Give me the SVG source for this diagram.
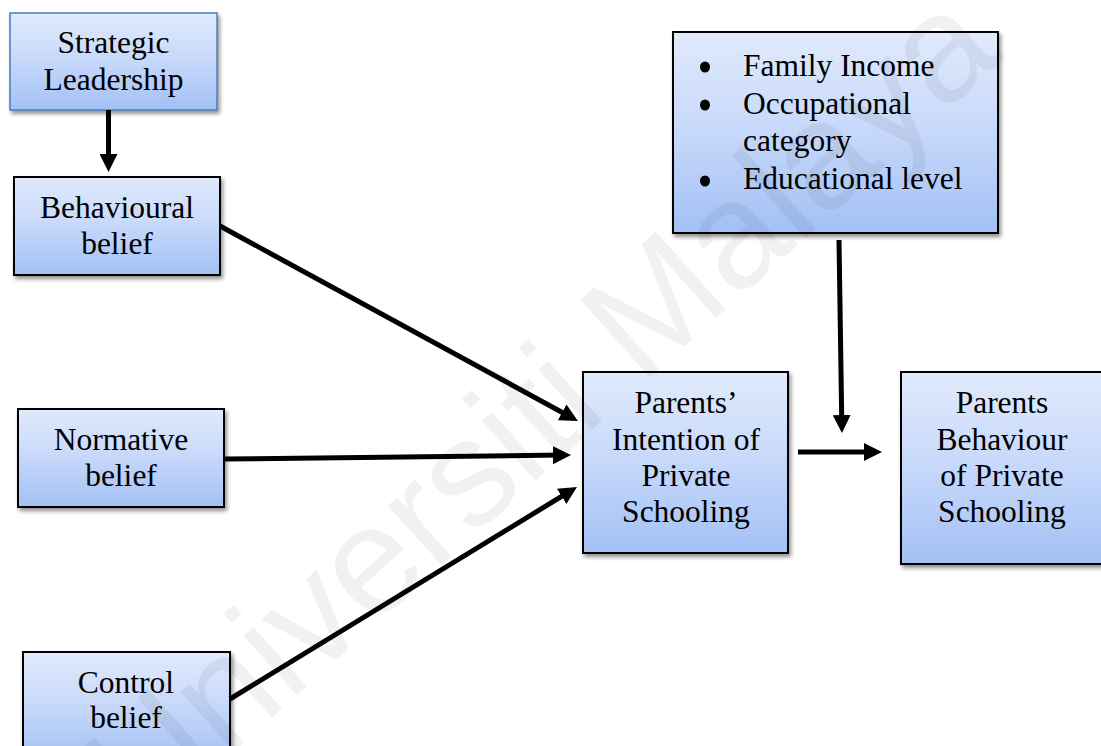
<svg xmlns="http://www.w3.org/2000/svg" width="1101" height="746" viewBox="0 0 1101 746">
<defs>
  <linearGradient id="g" x1="0" y1="0" x2="0" y2="1">
    <stop offset="0" stop-color="#e1eafc"/>
    <stop offset="0.5" stop-color="#c6d8fa"/>
    <stop offset="1" stop-color="#a2c0f5"/>
  </linearGradient>
  <filter id="sh" x="-10%" y="-10%" width="125%" height="130%">
    <feGaussianBlur in="SourceAlpha" stdDeviation="2"/>
    <feOffset dx="2" dy="3" result="b"/>
    <feComponentTransfer><feFuncA type="linear" slope="0.45"/></feComponentTransfer>
    <feMerge><feMergeNode/><feMergeNode in="SourceGraphic"/></feMerge>
  </filter>
  <marker id="ah" viewBox="0 0 18 18" refX="8" refY="9" markerWidth="18" markerHeight="18" markerUnits="userSpaceOnUse" orient="auto">
    <path d="M0,0 L18,9 L0,18 z" fill="#000"/>
  </marker>
  <style>
    .box{fill:url(#g);stroke:#000;stroke-width:2;filter:url(#sh)}
    .boxb{fill:url(#g);stroke:#4a7ebb;stroke-width:1.5;filter:url(#sh)}
    .t{font-family:"Liberation Serif","Times New Roman",serif;font-size:31.5px;fill:#000;text-anchor:middle}
    .tl{font-family:"Liberation Serif","Times New Roman",serif;font-size:31.5px;fill:#000}
    .bul{fill:#000}
    .c{stroke:#000;stroke-width:5;fill:none;marker-end:url(#ah)}
    .wm{font-family:"Liberation Sans",Arial,sans-serif;font-size:152px;fill:#000;fill-opacity:0.055}
  </style>
</defs>
<rect width="1101" height="746" fill="#fff"/>

<g id="strategic-leadership">
  <rect class="boxb" x="10" y="13" width="207" height="97"/>
  <text class="t"><tspan x="113.5" y="53">Strategic</tspan><tspan x="113.5" y="90">Leadership</tspan></text>
</g>

<g id="behavioural-belief">
  <rect class="box" x="14" y="177" width="206" height="98"/>
  <text class="t"><tspan x="117" y="218">Behavioural</tspan><tspan x="117" y="254">belief</tspan></text>
</g>

<g id="normative-belief">
  <rect class="box" x="18" y="409" width="206" height="98"/>
  <text class="t"><tspan x="121" y="450">Normative</tspan><tspan x="121" y="486">belief</tspan></text>
</g>

<g id="control-belief">
  <rect class="box" x="23" y="652" width="207" height="110"/>
  <text class="t"><tspan x="126" y="693">Control</tspan><tspan x="126" y="728">belief</tspan></text>
</g>

<g id="intention">
  <rect class="box" x="583" y="372" width="205" height="181"/>
  <text class="t"><tspan x="686" y="413">Parents’</tspan><tspan x="686" y="450">Intention of</tspan><tspan x="686" y="486">Private</tspan><tspan x="686" y="522">Schooling</tspan></text>
</g>

<g id="behaviour">
  <rect class="box" x="901" y="372" width="203" height="192"/>
  <text class="t"><tspan x="1002" y="413">Parents</tspan><tspan x="1002" y="450">Behaviour</tspan><tspan x="1002" y="486">of Private</tspan><tspan x="1002" y="522">Schooling</tspan></text>
</g>

<g id="socio-economic">
  <rect class="box" x="673" y="32" width="325" height="201"/>
  <ellipse class="bul" cx="705" cy="67" rx="5" ry="5.5"/>
  <ellipse class="bul" cx="705" cy="105" rx="5" ry="5.5"/>
  <ellipse class="bul" cx="705" cy="181" rx="5" ry="5.5"/>
  <text class="tl"><tspan x="743" y="76">Family Income</tspan><tspan x="743" y="114">Occupational</tspan><tspan x="743" y="151">category</tspan><tspan x="743" y="189">Educational level</tspan></text>
</g>

<g id="connectors">
  <line class="c" x1="108.5" y1="110" x2="108.5" y2="162"/>
  <line class="c" x1="220" y1="226" x2="569.2" y2="416.2"/>
  <line class="c" x1="224" y1="459" x2="561" y2="455.1"/>
  <line class="c" x1="230" y1="699" x2="568.5" y2="492.2"/>
  <line class="c" x1="839" y1="240" x2="841.8" y2="423"/>
  <line class="c" x1="798" y1="452" x2="872" y2="452"/>
</g>

<text class="wm" text-anchor="middle" transform="translate(575,445) rotate(-42)">Universiti Malaya</text>
</svg>
